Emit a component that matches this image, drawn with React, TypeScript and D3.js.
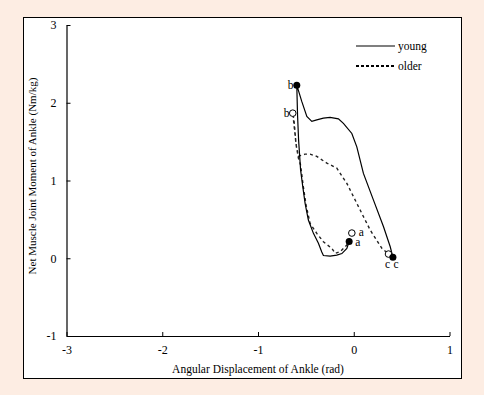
import * as d3 from "d3";
import { useEffect, useRef } from "react";

// angle (rad), moment (Nm/kg)
const youngX = [-0.048, -0.072, -0.124, -0.177, -0.247, -0.317, -0.334, -0.369, -0.421, -0.474, -0.508, -0.532, -0.555, -0.576, -0.587, -0.595, -0.543, -0.49, -0.438, -0.386, -0.317, -0.247, -0.16, -0.108, -0.02, 0.032, 0.101, 0.206, 0.311, 0.381, 0.409];
const youngY = [0.215, 0.127, 0.06, 0.041, 0.028, 0.035, 0.08, 0.192, 0.32, 0.491, 0.706, 0.919, 1.134, 1.519, 1.841, 2.226, 2.017, 1.824, 1.76, 1.78, 1.802, 1.811, 1.793, 1.734, 1.605, 1.433, 1.091, 0.748, 0.405, 0.148, 0.012];

const olderX = [-0.02, -0.072, -0.142, -0.194, -0.229, -0.317, -0.386, -0.456, -0.498, -0.529, -0.555, -0.578, -0.602, -0.623, -0.637, -0.602, -0.578, -0.508, -0.456, -0.386, -0.281, -0.177, -0.072, 0.067, 0.172, 0.294, 0.363];
const olderY = [0.324, 0.17, 0.084, 0.063, 0.127, 0.212, 0.32, 0.449, 0.684, 0.941, 1.198, 1.288, 1.459, 1.764, 1.866, 1.459, 1.314, 1.339, 1.339, 1.31, 1.224, 1.159, 0.963, 0.62, 0.362, 0.127, 0.054];

// index of labelled points a, b, c in each series
const pointLabels = ["a", "b", "c"];
const youngIdx = [0, 15, 30];
const olderIdx = [0, 14, 26];

const xTicks = [-3, -2, -1, 0, 1];
const yTicks = [-1, 0, 1, 2, 3];

const W = 484, H = 395;

export default function App() {
    const ref = useRef<SVGSVGElement>(null);

    useEffect(() => {
        const svg = d3.select(ref.current);
        svg.selectAll("*").remove();

        svg.append("rect").attr("width", W).attr("height", H).attr("fill", "#fdede3");
        svg.append("rect")
            .attr("x", 23.5).attr("y", 17.5).attr("width", 438).attr("height", 361)
            .attr("fill", "white").attr("stroke", "black").attr("stroke-width", 1);

        const x = d3.scaleLinear().domain([-3, 1]).range([66.5, 449.5]);
        const y = d3.scaleLinear().domain([-1, 3]).range([336, 25]);

        const font = "'Liberation Serif', 'Times New Roman', serif";

        const xAxis = svg.append("g")
            .attr("transform", `translate(0,${y(-1)})`)
            .call(d3.axisBottom(x).tickValues(xTicks).tickSizeInner(-4).tickSizeOuter(0).tickPadding(9).tickFormat(d => String(d)));
        const yAxis = svg.append("g")
            .attr("transform", `translate(${x(-3)},0)`)
            .call(d3.axisLeft(y).tickValues(yTicks).tickSizeInner(-4).tickSizeOuter(0).tickPadding(10).tickFormat(d => String(d)));

        [xAxis, yAxis].forEach(g => {
            g.select(".domain").attr("stroke", "black").attr("stroke-width", 1.2);
            g.selectAll(".tick line").attr("stroke", "black").attr("stroke-width", 1);
            g.selectAll("text").attr("font-family", font).attr("font-size", 12).attr("fill", "black");
        });

        svg.append("text")
            .attr("x", (x(-3) + x(1)) / 2).attr("y", 373)
            .attr("text-anchor", "middle")
            .attr("font-family", font).attr("font-size", 11.5)
            .text("Angular Displacement of Ankle (rad)");

        svg.append("text")
            .attr("transform", `translate(36,176) rotate(-90)`)
            .attr("text-anchor", "middle")
            .attr("font-family", font).attr("font-size", 11)
            .text("Net Muscle Joint Moment of Ankle (Nm/kg)");

        const line = d3.line<number[]>().x(d => x(d[0])).y(d => y(d[1]));

        const young = youngX.map((v, i) => [v, youngY[i]]);
        const older = olderX.map((v, i) => [v, olderY[i]]);

        svg.append("path")
            .attr("d", line(older))
            .attr("fill", "none").attr("stroke", "#222").attr("stroke-width", 1.4)
            .attr("stroke-dasharray", "3,3");

        svg.append("path")
            .attr("d", line(young))
            .attr("fill", "none").attr("stroke", "black").attr("stroke-width", 1.2);

        // marker points
        olderIdx.forEach(i => {
            svg.append("circle")
                .attr("cx", x(olderX[i])).attr("cy", y(olderY[i])).attr("r", 3.3)
                .attr("fill", "white").attr("stroke", "black").attr("stroke-width", 1);
        });
        youngIdx.forEach(i => {
            svg.append("circle")
                .attr("cx", x(youngX[i])).attr("cy", y(youngY[i])).attr("r", 3.5)
                .attr("fill", "black");
        });

        // labels: a right, b left, c below the zero line
        const addLabels = (xs: number[], ys: number[], idx: number[], offs: number[][]) => {
            idx.forEach((i, k) => {
                svg.append("text")
                    .attr("x", x(xs[i]) + offs[k][0])
                    .attr("y", k === 2 ? y(0) + 10 : y(ys[i]) + offs[k][1])
                    .attr("font-family", font).attr("font-size", 11.5)
                    .text(pointLabels[k]);
            });
        };
        addLabels(youngX, youngY, youngIdx, [[6, 4], [-9, 4], [0.5, 0]]);
        addLabels(olderX, olderY, olderIdx, [[7, 3], [-9, 4], [-3.5, 0]]);

        // legend
        const legend = [
            { name: "young", dash: null, yPos: 46 },
            { name: "older", dash: "3,2", yPos: 66 }
        ];
        legend.forEach(l => {
            svg.append("line")
                .attr("x1", 356).attr("x2", 395).attr("y1", l.yPos).attr("y2", l.yPos)
                .attr("stroke", "black").attr("stroke-width", l.dash ? 2 : 1.2)
                .attr("stroke-dasharray", l.dash);
            svg.append("text")
                .attr("x", 398).attr("y", l.yPos + 4)
                .attr("font-family", font).attr("font-size", 11.5)
                .text(l.name);
        });
    }, []);

    return (
        <svg ref={ref} width={W} height={H}
            style={{ position: "absolute", left: 0, top: 0, display: "block" }} />
    );
}
